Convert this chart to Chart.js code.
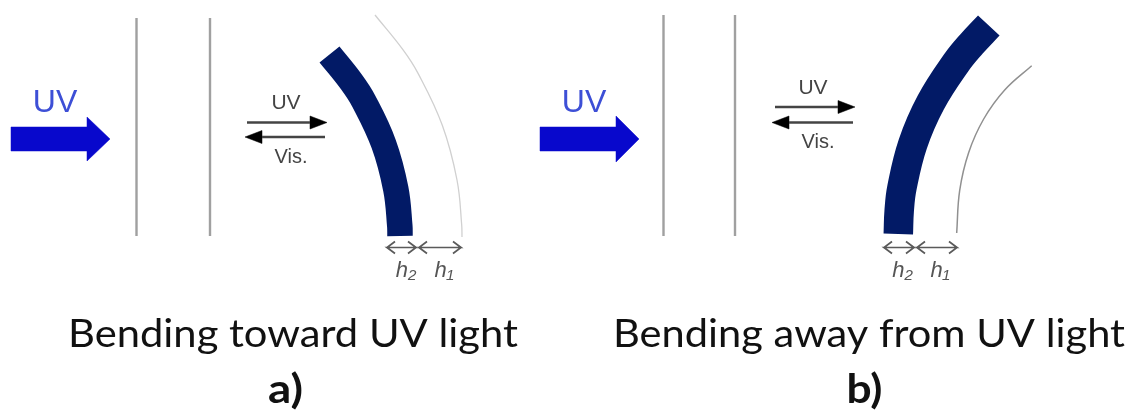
<!DOCTYPE html>
<html>
<head>
<meta charset="utf-8">
<script src="https://cdn.jsdelivr.net/npm/chart.js@4"></script>
<style>
  html, body { margin: 0; padding: 0; background: #fff; }
  canvas { display: block; filter: blur(0.6px); }
</style>
</head>
<body>
<canvas id="grafico" width="1133" height="414"></canvas>
<script>
// everything is in picture units, the chart scales run 0-1133 and 0-414
const bigArrowA = [[11,127],[87,127],[87,117],[110,139],[87,161],[87,151],[11,151]];
const bigArrowB = [[540,127],[616,127],[616,116],[639,139],[616,162],[616,151],[540,151]];

const slitsA = [[136.5,18,236],[210,18,236]];
const slitsB = [[663.5,15,236],[735,15,236]];

const bandA = [[400,236],[399.8,226],[395.8,189],[383.7,144],[364,101.6],[351.3,81.8],[329.5,54.5]];
const bandB = [[898.3,234],[899.2,210.7],[901.9,187.9],[912.8,144],[930.9,102.3],[956.2,62.8],[971.6,43.9],[988.8,25.5]];
const thinA = [[462,237],[461.7,225],[457,180],[442.3,125.3],[418.2,73.6],[402.9,49.6],[375,15]];
const thinB = [[956.7,233],[959.7,190.4],[968.7,152.5],[983.7,119],[1004.7,90],[1031.7,65.7]];

// x from, x to (tip), y
const smallArrows = [[247,327,122.5],[325,245,137],[775,855,107],[853,772,122.5]];
// x from, x to, y
const dimArrows = [[387,416,247.5],[419,461,247.5],[884,914,247.5],[917,957,247.5]];

const labels = [
  { t: 'UV', x: 55, y: 112, font: '32px "Liberation Sans"', color: '#3d4fd6' },
  { t: 'UV', x: 584, y: 112, font: '32px "Liberation Sans"', color: '#3d4fd6' },
  { t: 'UV', x: 286, y: 109, font: '21px "Liberation Sans"', color: '#444' },
  { t: 'Vis.', x: 291, y: 163, font: '20px "Liberation Sans"', color: '#444' },
  { t: 'UV', x: 813, y: 94, font: '21px "Liberation Sans"', color: '#444' },
  { t: 'Vis.', x: 818, y: 148, font: '20px "Liberation Sans"', color: '#444' },
  { t: 'h₂', x: 406, y: 277, font: 'italic 22px "Liberation Sans"', color: '#555' },
  { t: 'h₁', x: 444, y: 277, font: 'italic 22px "Liberation Sans"', color: '#555' },
  { t: 'h₂', x: 902.5, y: 277, font: 'italic 22px "Liberation Sans"', color: '#555' },
  { t: 'h₁', x: 940, y: 277, font: 'italic 22px "Liberation Sans"', color: '#555' },
  { t: 'Bending toward UV light', x: 293, y: 347, font: '38px Lato', color: '#111', w: 450 },
  { t: 'Bending away from UV light', x: 869, y: 347, font: '38px Lato', color: '#111', w: 512 },
  { t: 'a)', x: 285.5, y: 403, font: 'bold 41px Lato', color: '#111', w: 35 },
  { t: 'b)', x: 864.5, y: 403, font: 'bold 41px Lato', color: '#111', w: 36 }
];

function pts(lista) {
  return lista.map(p => ({ x: p[0], y: p[1] }));
}

function linha(lista, cor, largura, extra) {
  return Object.assign({
    data: pts(lista),
    showLine: true,
    borderColor: cor,
    backgroundColor: cor,
    borderWidth: largura,
    pointRadius: 0,
    fill: false,
    tension: 0
  }, extra || {});
}

const datasets = [];

[bigArrowA, bigArrowB].forEach(a => {
  datasets.push(linha(a.concat([a[0]]), '#0808cc', 0.5, { fill: 'shape' }));
});

slitsA.concat(slitsB).forEach(s => {
  datasets.push(linha([[s[0], s[1]], [s[0], s[2]]], '#a0a0a0', 2.4));
});

datasets.push(linha(bandA, '#021a66', 25.5, { tension: 0.4 }));
datasets.push(linha(bandB, '#021a66', 29.5, { tension: 0.4 }));
datasets.push(linha(thinA, '#d0d0d0', 1.3, { tension: 0.4 }));
datasets.push(linha(thinB, '#909090', 1.5, { tension: 0.4 }));

smallArrows.forEach(a => {
  const dir = a[1] > a[0] ? 1 : -1;
  const base = a[1] - dir * 17;
  datasets.push(linha([[a[0], a[2]], [base, a[2]]], '#444', 2.6));
  const cabeca = [[base, a[2] - 6.5], [a[1], a[2]], [base, a[2] + 6.5], [base, a[2] - 6.5]];
  datasets.push(linha(cabeca, '#000', 0.5, { fill: 'shape' }));
});

dimArrows.forEach(a => {
  const x1 = a[0], x2 = a[1], y = a[2];
  datasets.push(linha([
    [x1 + 8, y - 6], [x1, y], [x1 + 8, y + 6], [x1, y],
    [x2, y],
    [x2 - 8, y - 6], [x2, y], [x2 - 8, y + 6]
  ], '#5a5a5a', 1.7));
});

const textos = {
  id: 'textos',
  afterDatasetsDraw(chart) {
    const ctx = chart.ctx;
    const sx = chart.scales.x, sy = chart.scales.y;
    labels.forEach(l => {
      ctx.save();
      ctx.textAlign = 'center';
      ctx.textBaseline = 'alphabetic';
      ctx.font = l.font;
      ctx.fillStyle = l.color;
      ctx.translate(sx.getPixelForValue(l.x), sy.getPixelForValue(l.y));
      // the captions in the picture are wider than Lato, stretch them to fit
      if (l.w) ctx.scale(l.w / ctx.measureText(l.t).width, 1);
      ctx.fillText(l.t, 0, 0);
      ctx.restore();
    });
  }
};

new Chart(document.getElementById('grafico'), {
  type: 'scatter',
  data: { datasets: datasets },
  options: {
    responsive: false,
    animation: false,
    layout: { padding: 0 },
    plugins: { legend: { display: false }, tooltip: { enabled: false } },
    scales: {
      x: { type: 'linear', min: 0, max: 1133, display: false },
      y: { type: 'linear', min: 0, max: 414, reverse: true, display: false }
    }
  },
  plugins: [textos]
});
</script>
</body>
</html>
